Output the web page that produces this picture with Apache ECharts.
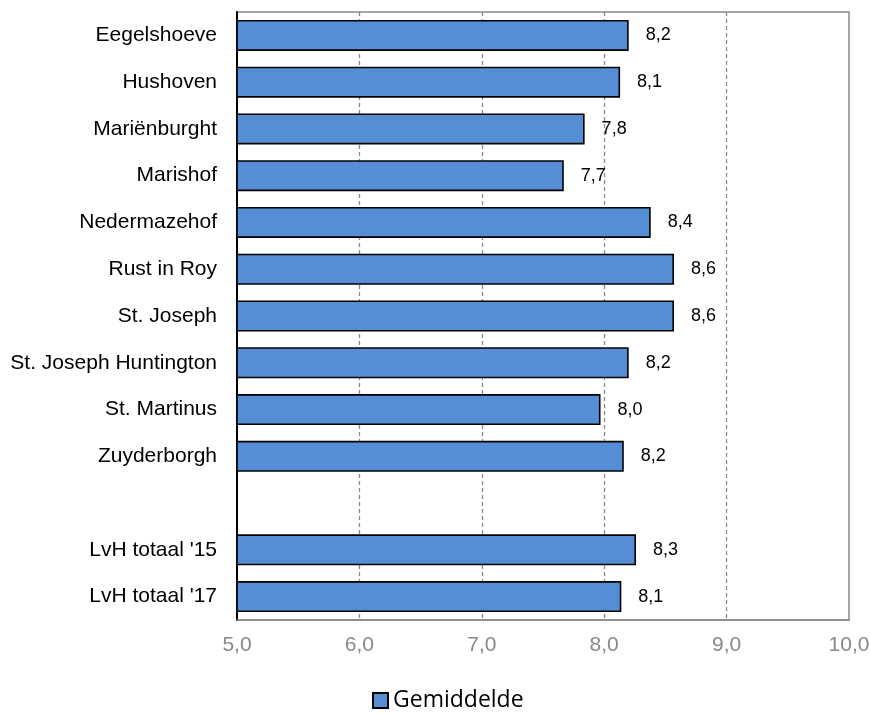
<!DOCTYPE html>
<html>
<head>
<meta charset="utf-8">
<script src="https://cdn.jsdelivr.net/npm/echarts@6/dist/echarts.min.js"></script>
<style>
  html, body { margin: 0; padding: 0; background: #fff; }
  #chart { width: 870px; height: 713px; }
</style>
</head>
<body>
<div id="chart"></div>
<script>
const categories = [
  'Eegelshoeve', 'Hushoven', 'Mariënburght', 'Marishof', 'Nedermazehof',
  'Rust in Roy', 'St. Joseph', 'St. Joseph Huntington', 'St. Martinus',
  'Zuyderborgh', '', "LvH totaal '15", "LvH totaal '17"
]
const gemiddelde = [8.20, 8.13, 7.84, 7.67, 8.38, 8.57, 8.57, 8.20, 7.97, 8.16, null, 8.26, 8.14]
const xTicks = { min: 5, max: 10, interval: 1 }

const fmt = v => v.toFixed(1).replace('.', ',')

const chart = echarts.init(document.getElementById('chart'))

chart.setOption({
  animation: false,
  textStyle: { fontFamily: 'Liberation Sans, Arial, sans-serif' },
  grid: {
    left: 237, right: 21, top: 12, bottom: 93,
    outerBoundsMode: 'none',
    show: true,
    borderColor: '#898989',
    borderWidth: 1.5
  },
  legend: {
    left: 367,
    top: 684,
    itemWidth: 15,
    itemHeight: 15,
    icon: 'rect',
    textStyle: { fontFamily: 'Open Sans, Noto Sans, sans-serif', fontSize: 23, color: '#000' },
    data: ['Gemiddelde']
  },
  xAxis: {
    type: 'value',
    min: xTicks.min,
    max: xTicks.max,
    interval: xTicks.interval,
    axisLine: { show: true, lineStyle: { color: '#898989', width: 1.5 } },
    axisTick: { show: false },
    axisLabel: { color: '#898989', fontSize: 21, margin: 15, formatter: fmt },
    splitLine: {
      show: true,
      showMinLine: false,
      showMaxLine: false,
      lineStyle: { color: '#898989', type: [4, 3], width: 1.3 }
    }
  },
  yAxis: {
    type: 'category',
    inverse: true,
    data: categories,
    axisLine: { show: true, lineStyle: { color: '#000', width: 2 } },
    axisTick: { show: false },
    axisLabel: { color: '#000', fontSize: 21, margin: 20 }
  },
  series: [
    {
      name: 'Gemiddelde',
      type: 'bar',
      data: gemiddelde,
      barWidth: 31,
      itemStyle: { color: '#558ed5', borderColor: '#000', borderWidth: 1.6 },
      label: {
        show: true,
        position: 'right',
        distance: 17,
        color: '#000',
        fontSize: 18,
        formatter: p => fmt(p.value)
      }
    }
  ]
})
</script>
</body>
</html>
